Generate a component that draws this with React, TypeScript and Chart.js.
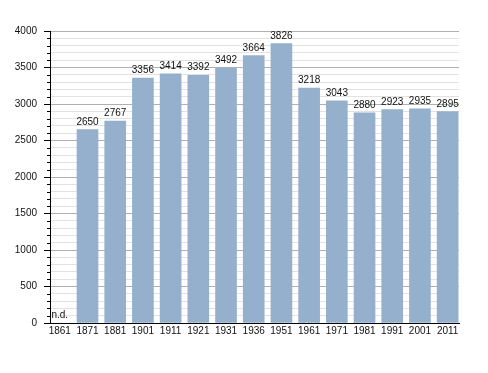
import React, { useEffect, useRef } from 'react';
import { Chart, registerables } from 'chart.js';

Chart.register(...registerables);

const years: string[] = ['1861', '1871', '1881', '1901', '1911', '1921', '1931', '1936', '1951', '1961', '1971', '1981', '1991', '2001', '2011'];
const population: (number | null)[] = [null, 2650, 2767, 3356, 3414, 3392, 3492, 3664, 3826, 3218, 3043, 2880, 2923, 2935, 2895];
const missingLabel = 'n.d.';
const yMax = 4000;
const yMinorStep = 100;
const yMajorStep = 500;

const FONT = "'Liberation Sans', Arial, sans-serif";

export default function App() {
  const ref = useRef<HTMLCanvasElement>(null);

  useEffect(() => {
    if (!ref.current) return;

    const labelPlugin = {
      id: 'valueLabels',
      afterDatasetsDraw(chart: any) {
        const { ctx, chartArea } = chart;
        const xs = chart.scales.x;
        const ys = chart.scales.y;
        const meta = chart.getDatasetMeta(0);
        ctx.save();
        ctx.font = `10px ${FONT}`;
        ctx.fillStyle = '#111';
        ctx.textAlign = 'center';
        ctx.textBaseline = 'alphabetic';
        population.forEach((v, i) => {
          if (v == null) {
            ctx.fillText(missingLabel, xs.getPixelForValue(i), chartArea.bottom - 5);
          } else {
            const el = meta.data[i];
            ctx.fillText(String(v), el.x, el.y - 5);
          }
        });
        // minor tick marks on the y axis
        ctx.strokeStyle = '#000';
        ctx.lineWidth = 1;
        ys.ticks.forEach((t: any) => {
          if (t.value % yMajorStep !== 0) {
            const py = Math.round(ys.getPixelForValue(t.value)) + 0.5;
            ctx.beginPath();
            ctx.moveTo(chartArea.left - 3, py);
            ctx.lineTo(chartArea.left, py);
            ctx.stroke();
          }
        });
        ctx.restore();
      },
    };

    const chart = new Chart(ref.current, {
      type: 'bar',
      data: {
        datasets: [
          {
            data: population.map((v, i) => ({ x: i, y: v })) as any,
            backgroundColor: '#94b0cc',
            borderWidth: 0,
            barThickness: 21,
          },
        ],
      },
      options: {
        animation: false,
        responsive: true,
        maintainAspectRatio: false,
        layout: { padding: { top: 31, right: 29, bottom: 0, left: 0 } },
        plugins: { legend: { display: false }, tooltip: { enabled: false } },
        scales: {
          x: {
            type: 'linear',
            offset: false,
            min: -0.354,
            max: 14.41,
            afterBuildTicks: (scale: any) => {
              scale.ticks = years.map((_, i) => ({ value: i }));
            },
            afterFit: (scale: any) => {
              scale.height = 50;
            },
            grid: { display: false, drawTicks: false },
            border: { display: true, color: '#000', width: 1 },
            ticks: {
              autoSkip: false,
              maxRotation: 0,
              padding: 2,
              color: '#111',
              font: { family: FONT, size: 10 },
              callback: (v: any) => years[Math.round(Number(v))] ?? '',
            },
          },
          y: {
            type: 'linear',
            min: 0,
            max: yMax,
            afterFit: (scale: any) => {
              scale.width = 50;
            },
            grid: {
              color: (c: any) => (c.tick && c.tick.value % yMajorStep === 0 ? '#b0b0b0' : '#e2e2e2'),
              tickColor: (c: any) => (c.tick && c.tick.value % yMajorStep === 0 ? '#000' : 'rgba(0,0,0,0)'),
              tickLength: 6,
              drawTicks: true,
            },
            border: { display: true, color: '#000', width: 1 },
            ticks: {
              stepSize: yMinorStep,
              autoSkip: false,
              padding: 7,
              color: '#111',
              font: { family: FONT, size: 10 },
              callback: (v: any) => (Number(v) % yMajorStep === 0 ? String(v) : ''),
            },
          },
        },
      },
      plugins: [labelPlugin],
    });

    return () => chart.destroy();
  }, []);

  return (
    <div style={{ position: 'absolute', left: 0, top: 0, width: 488, height: 373, background: '#fff' }}>
      <canvas ref={ref} />
    </div>
  );
}
